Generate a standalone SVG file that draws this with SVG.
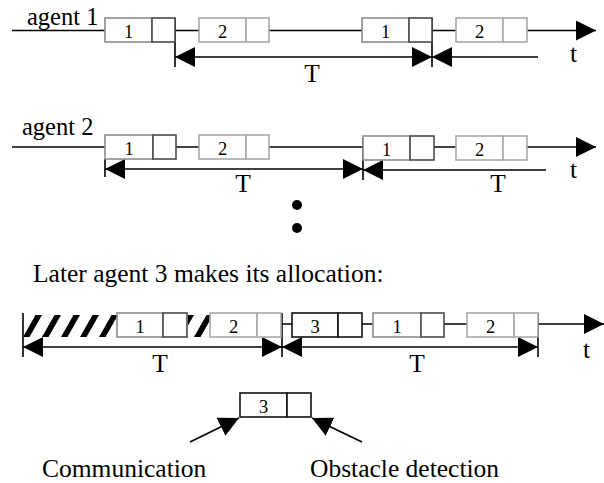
<svg xmlns="http://www.w3.org/2000/svg" width="604" height="483" viewBox="0 0 604 483">
<style>
.ln{stroke:#000;stroke-width:1.6;fill:none}
.txt{font-family:"Liberation Serif","Times New Roman",serif;fill:#000}
.lbl{font-size:25.5px}
.dig{font-size:18.5px;text-anchor:middle}
.mid{text-anchor:middle}
.g1{fill:#fff;stroke:#8c8c8c;stroke-width:1.6}
.d1{fill:#fff;stroke:#4a4a4a;stroke-width:1.6}
.g2{fill:#fff;stroke:#a8a8a8;stroke-width:1.6}
.k3{fill:#fff;stroke:#111;stroke-width:1.6}
</style>
<defs>
<marker id="ah" viewBox="0 0 20 20" refX="20" refY="10" markerWidth="20" markerHeight="20" markerUnits="userSpaceOnUse" orient="auto-start-reverse">
<path d="M0,0 L20,10 L0,20 z" fill="#000"/>
</marker>
<pattern id="hatch" patternUnits="userSpaceOnUse" x="23" y="315" width="19" height="22">
<polygon points="0,22 6.5,22 19,0 12.5,0" fill="#000"/>
</pattern>
</defs>

<g id="connectors">
<!-- agent 1 -->
<path class="ln" d="M12,30.5 H105 M175,30.5 H199 M269,30.5 H362 M432,30.5 H456"/>
<path class="ln" d="M527,30.5 H596" marker-end="url(#ah)"/>
<path class="ln" d="M175,18 V67 M432,18 V67"/>
<path class="ln" d="M175,57 H432" marker-start="url(#ah)" marker-end="url(#ah)"/>
<path class="ln" d="M538,57 H432" marker-end="url(#ah)"/>
<!-- agent 2 -->
<path class="ln" d="M12,147 H105 M176,147 H199 M269,147 H363 M434,147 H456"/>
<path class="ln" d="M527,147 H596" marker-end="url(#ah)"/>
<path class="ln" d="M105,159 V177 M363,138 V180"/>
<path class="ln" d="M105,169 H363" marker-start="url(#ah)" marker-end="url(#ah)"/>
<path class="ln" d="M546,170 H363" marker-end="url(#ah)"/>
<!-- agent 3 -->
<path class="ln" d="M282,324 H292 M362,324 H373 M444,324 H467"/>
<path class="ln" d="M538,324 H604" marker-end="url(#ah)"/>
<path class="ln" d="M23,313 V357 M282,313 V357 M538,313 V357"/>
<path class="ln" d="M23,347 H282" marker-start="url(#ah)" marker-end="url(#ah)"/>
<path class="ln" d="M282,347 H538" marker-start="url(#ah)" marker-end="url(#ah)"/>
<!-- bottom -->
<path class="ln" d="M190,442 L239,418" marker-end="url(#ah)"/>
<path class="ln" d="M362,442 L312,418" marker-end="url(#ah)"/>
</g>

<g id="agent1-row">
<text class="txt" x="27" y="25" font-size="24.5">agent 1</text>
<g id="a1-box1"><rect class="g1" x="105" y="18" width="47" height="24"/><rect class="d1" x="152" y="18" width="23" height="24"/><text class="txt dig" x="128.5" y="38">1</text></g>
<g id="a1-box2"><rect class="g2" x="199" y="18" width="47" height="24"/><rect class="g2" x="246" y="18" width="23" height="24"/><text class="txt dig" x="222.5" y="38">2</text></g>
<g id="a1-box3"><rect class="g1" x="362" y="18" width="47" height="24"/><rect class="d1" x="409" y="18" width="23" height="24"/><text class="txt dig" x="385.5" y="38">1</text></g>
<g id="a1-box4"><rect class="g2" x="456" y="18" width="47" height="24"/><rect class="g2" x="503" y="18" width="24" height="24"/><text class="txt dig" x="479.5" y="38">2</text></g>
<text class="txt lbl mid" x="312" y="82">T</text>
<text class="txt lbl" x="570" y="62">t</text>
</g>

<g id="agent2-row">
<text class="txt" x="22" y="135" font-size="24.5">agent 2</text>
<g id="a2-box1"><rect class="g1" x="105" y="135" width="48" height="24"/><rect class="d1" x="153" y="135" width="23" height="24"/><text class="txt dig" x="129" y="155">1</text></g>
<g id="a2-box2"><rect class="g2" x="199" y="135" width="47" height="24"/><rect class="g2" x="246" y="135" width="23" height="24"/><text class="txt dig" x="222.5" y="155">2</text></g>
<g id="a2-box3"><rect class="g1" x="363" y="136" width="47" height="24"/><rect class="d1" x="410" y="136" width="24" height="24"/><text class="txt dig" x="386.5" y="156">1</text></g>
<g id="a2-box4"><rect class="g2" x="456" y="136" width="47" height="24"/><rect class="g2" x="503" y="136" width="24" height="24"/><text class="txt dig" x="479.5" y="156">2</text></g>
<text class="txt lbl mid" x="243" y="192">T</text>
<text class="txt lbl mid" x="498" y="192">T</text>
<text class="txt lbl" x="570" y="178">t</text>
</g>

<g id="ellipsis">
<circle cx="297" cy="205" r="5" fill="#000"/>
<circle cx="297" cy="228" r="5" fill="#000"/>
</g>

<g id="caption">
<text class="txt lbl" x="33" y="282">Later agent 3 makes its allocation:</text>
</g>

<g id="agent3-row">
<rect x="24" y="315" width="93" height="22" fill="url(#hatch)"/>
<rect x="188" y="315" width="22" height="22" fill="url(#hatch)"/>
<g id="a3-box1"><rect class="g1" x="117" y="313" width="46" height="24"/><rect class="d1" x="163" y="313" width="24" height="24"/><text class="txt dig" x="140" y="333">1</text></g>
<g id="a3-box2"><rect class="g2" x="210" y="313" width="47" height="24"/><rect class="g2" x="257" y="313" width="24" height="24"/><text class="txt dig" x="233.5" y="333">2</text></g>
<g id="a3-box3"><rect class="k3" x="292" y="313" width="46" height="24"/><rect class="k3" x="338" y="313" width="24" height="24"/><text class="txt dig" x="315" y="333">3</text></g>
<g id="a3-box4"><rect class="g1" x="373" y="313" width="48" height="24"/><rect class="d1" x="421" y="313" width="23" height="24"/><text class="txt dig" x="397" y="333">1</text></g>
<g id="a3-box5"><rect class="g2" x="467" y="313" width="47" height="24"/><rect class="g2" x="514" y="313" width="24" height="24"/><text class="txt dig" x="490.5" y="333">2</text></g>
<text class="txt lbl mid" x="160" y="372">T</text>
<text class="txt lbl mid" x="417" y="372">T</text>
<text class="txt lbl" x="583" y="358">t</text>
</g>

<g id="slot-detail">
<rect class="k3" x="240" y="393" width="47" height="24"/><rect class="k3" x="287" y="393" width="24" height="24"/>
<text class="txt dig" x="263.5" y="413">3</text>
</g>
<g id="label-communication"><text class="txt lbl" x="42" y="477">Communication</text></g>
<g id="label-obstacle"><text class="txt lbl" x="310" y="477">Obstacle detection</text></g>
</svg>
